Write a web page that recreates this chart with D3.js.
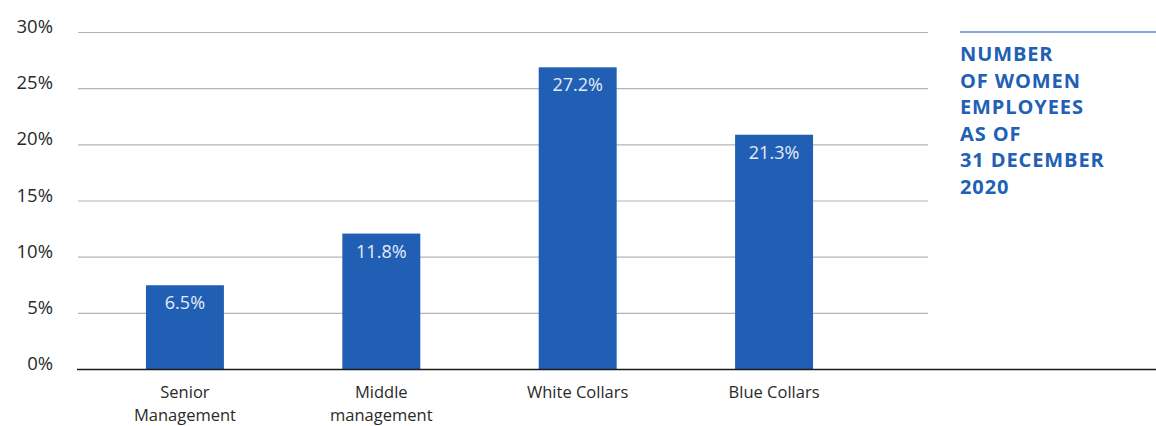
<!DOCTYPE html>
<html>
  <head>
    <meta charset="utf-8">
    <title>Women employees</title>
    <script type="text/javascript" src="https://d3js.org/d3.v7.min.js"></script>
    <style>
      html, body {
        margin: 0;
        background: #fff;
      }
      svg text { font-family: "Open Sans", sans-serif; }
    </style>
  </head>
  <body>
    <script>

    // data
    var categories = [["Senior", "Management"], ["Middle", "management"], ["White Collars"], ["Blue Collars"]];
    var barHeights = [7.5, 12.1, 26.9, 20.9];
    var barLabels = ["6.5%", "11.8%", "27.2%", "21.3%"];
    var yTicks = [0, 5, 10, 15, 20, 25, 30];
    var titleLines = ["NUMBER", "OF WOMEN", "EMPLOYEES", "AS OF", "31 DECEMBER", "2020"];

    var width = 1156, height = 426;

    var svg = d3.select("body")
                .append("svg")
                .attr("width", width)
                .attr("height", height);

    var y = d3.scaleLinear().domain([0, 30]).range([369.5, 32.5]);

    var x = d3.scaleBand()
              .domain(d3.range(categories.length))
              .range([78, 881])
              .paddingInner(0.603)
              .paddingOuter(0.346);

    // gridlines
    svg.selectAll("line.grid")
        .data(yTicks.slice(1))
        .enter()
        .append("line")
        .attr("class", "grid")
        .attr("x1", 78)
        .attr("x2", 928)
        .attr("y1", function(d) {return y(d)})
        .attr("y2", function(d) {return y(d)})
        .attr("stroke", "#b4b4b4")
        .attr("stroke-width", 1.2);

    // y tick labels
    svg.selectAll("text.ytick")
        .data(yTicks)
        .enter()
        .append("text")
        .attr("class", "ytick")
        .attr("x", 53)
        .attr("y", function(d) {return y(d) + 0.5})
        .attr("text-anchor", "end")
        .attr("font-size", 18.5)
        .attr("fill", "#2a2a2a")
        .text(function(d) {return d + "%"});

    // bars
    svg.selectAll("rect")
        .data(barHeights)
        .enter()
        .append("rect")
        .attr("x", function(d, i) {return x(i)})
        .attr("y", function(d) {return y(d)})
        .attr("width", x.bandwidth())
        .attr("height", function(d) {return y(0) - y(d)})
        .attr("fill", "#215fb4");

    // value labels
    svg.selectAll("text.val")
        .data(barLabels)
        .enter()
        .append("text")
        .attr("class", "val")
        .attr("x", function(d, i) {return x(i) + x.bandwidth() / 2})
        .attr("y", function(d, i) {return y(barHeights[i]) + 24})
        .attr("text-anchor", "middle")
        .attr("font-size", 18)
        .attr("fill", "#e4ecf8")
        .text(function(d) {return d});

    // baseline
    svg.append("line")
        .attr("x1", 77)
        .attr("x2", width)
        .attr("y1", y(0))
        .attr("y2", y(0))
        .attr("stroke", "#1a1a1a")
        .attr("stroke-width", 1.5);

    // category labels
    var cat = svg.selectAll("text.cat")
        .data(categories)
        .enter()
        .append("text")
        .attr("class", "cat")
        .attr("text-anchor", "middle")
        .attr("font-size", 16.5)
        .attr("fill", "#2a2a2a");

    cat.selectAll("tspan")
        .data(function(d, i) {return d.map(function(t) {return {t: t, i: i}})})
        .enter()
        .append("tspan")
        .attr("x", function(d) {return x(d.i) + x.bandwidth() / 2})
        .attr("y", function(d, j) {return 398 + j * 22.5})
        .text(function(d) {return d.t});

    // title block
    svg.append("line")
        .attr("x1", 960)
        .attr("x2", width)
        .attr("y1", 32)
        .attr("y2", 32)
        .attr("stroke", "#5b8bd0")
        .attr("stroke-width", 1.5);

    svg.selectAll("text.title")
        .data(titleLines)
        .enter()
        .append("text")
        .attr("class", "title")
        .attr("x", 960)
        .attr("y", function(d, i) {return 61 + i * 26.5})
        .attr("font-size", 20)
        .attr("font-weight", "bold")
        .attr("letter-spacing", 0.9)
        .attr("fill", "#2160b5")
        .text(function(d) {return d});

    </script>
  </body>
</html>
